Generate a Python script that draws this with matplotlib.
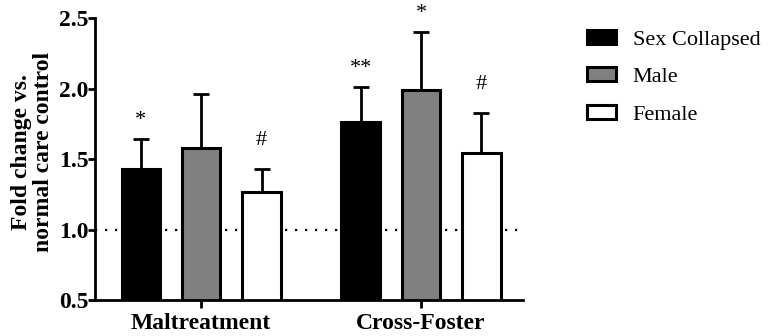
import numpy as np
import matplotlib.pyplot as plt
from matplotlib.patches import Patch

plt.rcParams['font.family'] = ['Liberation Serif', 'DejaVu Serif']

groups = ['Maltreatment', 'Cross-Foster']
series = ['Sex Collapsed', 'Male', 'Female']
colors = ['black', '#808080', 'white']
means = {
    'Sex Collapsed': [1.43, 1.76],
    'Male': [1.58, 1.99],
    'Female': [1.27, 1.54],
}
sem = {
    'Sex Collapsed': [0.21, 0.25],
    'Male': [0.38, 0.41],
    'Female': [0.16, 0.29],
}
marks = {
    'Sex Collapsed': ['*', '**'],
    'Male': ['', '*'],
    'Female': ['#', '#'],
}

fig = plt.figure(figsize=(7.68, 3.36), dpi=100)
ax = fig.add_axes([0.124, 0.107, 0.557, 0.839])

x = np.arange(len(groups))
width = 0.175
offsets = [-0.275, 0, 0.275]

ax.axhline(1.0, color='black', linestyle=(0, (1, 3.5)), linewidth=1.6, zorder=0)

for s, c, off in zip(series, colors, offsets):
    vals = means[s]
    err = sem[s]
    ax.bar(x + off, vals, width, bottom=0, color=c, edgecolor='black',
           linewidth=2.2, zorder=2)
    ax.errorbar(x + off, vals, yerr=[[0] * len(vals), err], fmt='none',
                ecolor='black', elinewidth=2, capsize=6, capthick=2, zorder=1)
    for xi, v, e, m in zip(x + off, vals, err, marks[s]):
        if m:
            dy = 0.20 if m == '#' else 0.135
            ax.text(xi, v + e + dy, m, ha='center', va='center', fontsize=16,
                    clip_on=False)

ax.set_ylim(0.5, 2.5)
ax.set_xlim(-0.482, 1.464)
ax.set_yticks([0.5, 1.0, 1.5, 2.0, 2.5])
ax.set_yticklabels(['0.5', '1.0', '1.5', '2.0', '2.5'])
ax.set_xticks(x)
ax.set_xticklabels(groups)
for lab in ax.get_yticklabels():
    lab.set_fontweight('bold')
    lab.set_fontsize(17)
for lab in ax.get_xticklabels():
    lab.set_fontweight('bold')
    lab.set_fontsize(17)
ax.tick_params(axis='both', width=2)
ax.tick_params(axis='x', length=6, pad=3)
ax.tick_params(axis='y', length=5, pad=0)
ax.spines['top'].set_visible(False)
ax.spines['right'].set_visible(False)
ax.spines['left'].set_linewidth(2)
ax.spines['bottom'].set_linewidth(2)
ax.set_ylabel('Fold change vs.\nnormal care control', fontsize=17,
              fontweight='bold', linespacing=1.05)
ax.yaxis.set_label_coords(-0.097, 0.525)

handles = [Patch(facecolor=c, edgecolor='black', linewidth=2.2, label=s)
           for s, c in zip(series, colors)]
fig.legend(handles=handles, loc='upper left', bbox_to_anchor=(0.764, 0.911),
           frameon=False, fontsize=16, handlelength=1.3, handleheight=0.58,
           labelspacing=0.8, handletextpad=0.77, borderpad=0,
           borderaxespad=0)

fig.savefig('out.png', dpi=100)
